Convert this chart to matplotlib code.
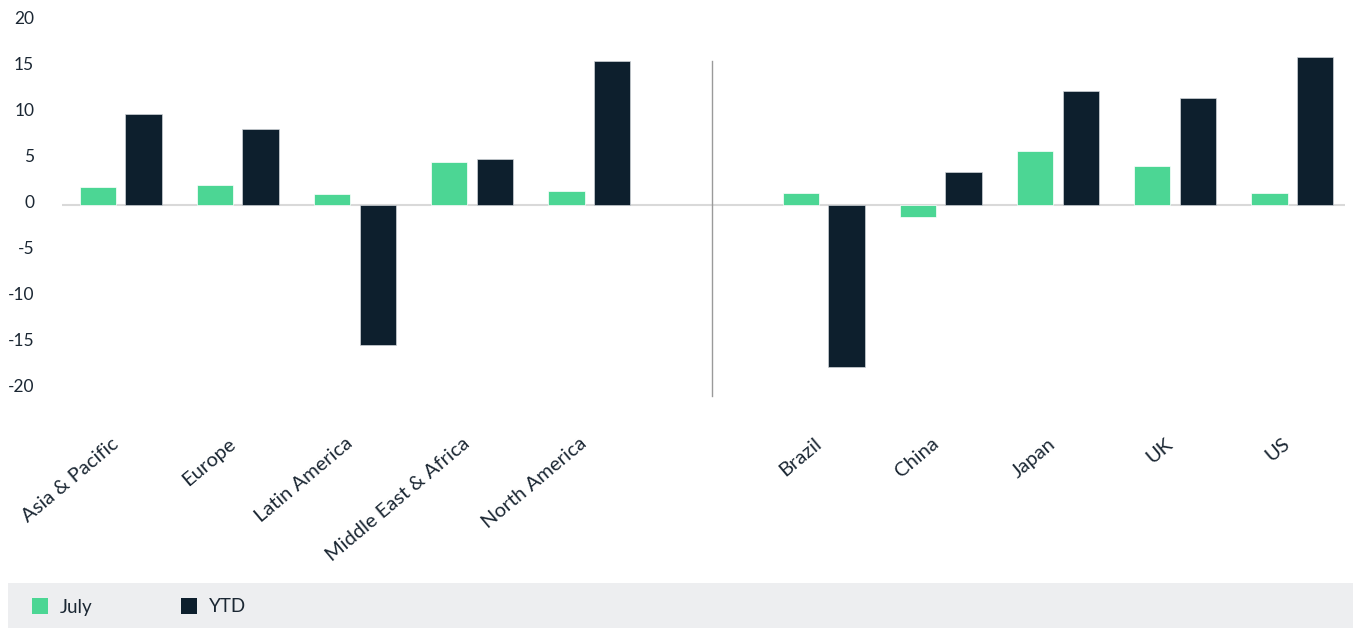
import matplotlib
matplotlib.use("Agg")
import matplotlib.pyplot as plt
from matplotlib.patches import Rectangle
from matplotlib.transforms import ScaledTranslation

plt.rcParams['font.family'] = ['Lato', 'DejaVu Sans']

categories = ["Asia & Pacific", "Europe", "Latin America", "Middle East & Africa",
              "North America", "", "Brazil", "China", "Japan", "UK", "US"]
july = [2.0, 2.2, 1.2, 4.7, 1.5, None, 1.3, -1.35, 5.9, 4.25, 1.3]
ytd = [9.9, 8.3, -15.2, 5.0, 15.65, None, -17.6, 3.6, 12.4, 11.6, 16.05]
yticks = [20, 15, 10, 5, 0, -5, -10, -15, -20]
series_names = ["July", "YTD"]

GREEN = "#4cd694"
DARK = "#0d1f2d"
TEXT = "#1b2733"

fig = plt.figure(figsize=(13.53, 6.28), dpi=100)
ax = fig.add_axes([62 / 1353, 1 - 389 / 628, 1283 / 1353, 368 / 628])

xs = [i for i, c in enumerate(categories) if c]
jv = [july[i] for i in xs]
yv = [ytd[i] for i in xs]
w = 0.31
off = 0.195
ax.bar([x - off for x in xs], jv, width=w, color=GREEN, edgecolor="white", linewidth=0.5, zorder=3)
ax.bar([x + off for x in xs], yv, width=w, color=DARK, edgecolor="#cfd3d8", linewidth=0.5, zorder=3)

ax.set_xlim(-0.5, 10.45)
ax.set_ylim(-20, 20)
ax.axhline(0, color="#d9d9d9", linewidth=1.5, zorder=2)
ax.plot([5.05, 5.05], [15.65, -20.8], color="#9a9a9a", linewidth=1, clip_on=False, zorder=2)

ax.set_yticks(yticks)
ax.set_yticklabels([str(t) for t in yticks], fontsize=12.5, color=TEXT)
ax.tick_params(axis='y', length=0, pad=20)
up = ScaledTranslation(0, 3.5 / 100, fig.dpi_scale_trans)
for lab in ax.get_yticklabels():
    lab.set_transform(lab.get_transform() + up)

ax.set_xticks(xs)
ax.set_xticklabels([categories[i] for i in xs], rotation=40, ha="right",
                   rotation_mode="anchor", fontsize=14.5, color=TEXT)
ax.tick_params(axis='x', length=0, pad=33)
shift = ScaledTranslation(-10 / 100, 0, fig.dpi_scale_trans)
for lab in ax.get_xticklabels():
    lab.set_transform(lab.get_transform() + shift)
for s in ax.spines.values():
    s.set_visible(False)

# legend band
fig.patches.append(Rectangle((8 / 1353, 0), 1345 / 1353, 45 / 628, transform=fig.transFigure,
                             facecolor="#edeef0", edgecolor="none", zorder=0))
ly = 1 - 607 / 628
for x0, col, name in [(32, GREEN, series_names[0]), (181, DARK, series_names[1])]:
    fig.patches.append(Rectangle((x0 / 1353, 1 - 614 / 628), 16 / 1353, 16 / 628,
                                 transform=fig.transFigure, facecolor=col, edgecolor="none", zorder=1))
    fig.text((x0 + 28) / 1353, ly, name, fontsize=13.5, color=TEXT, va="center", ha="left")

fig.savefig("out.png", dpi=100)
